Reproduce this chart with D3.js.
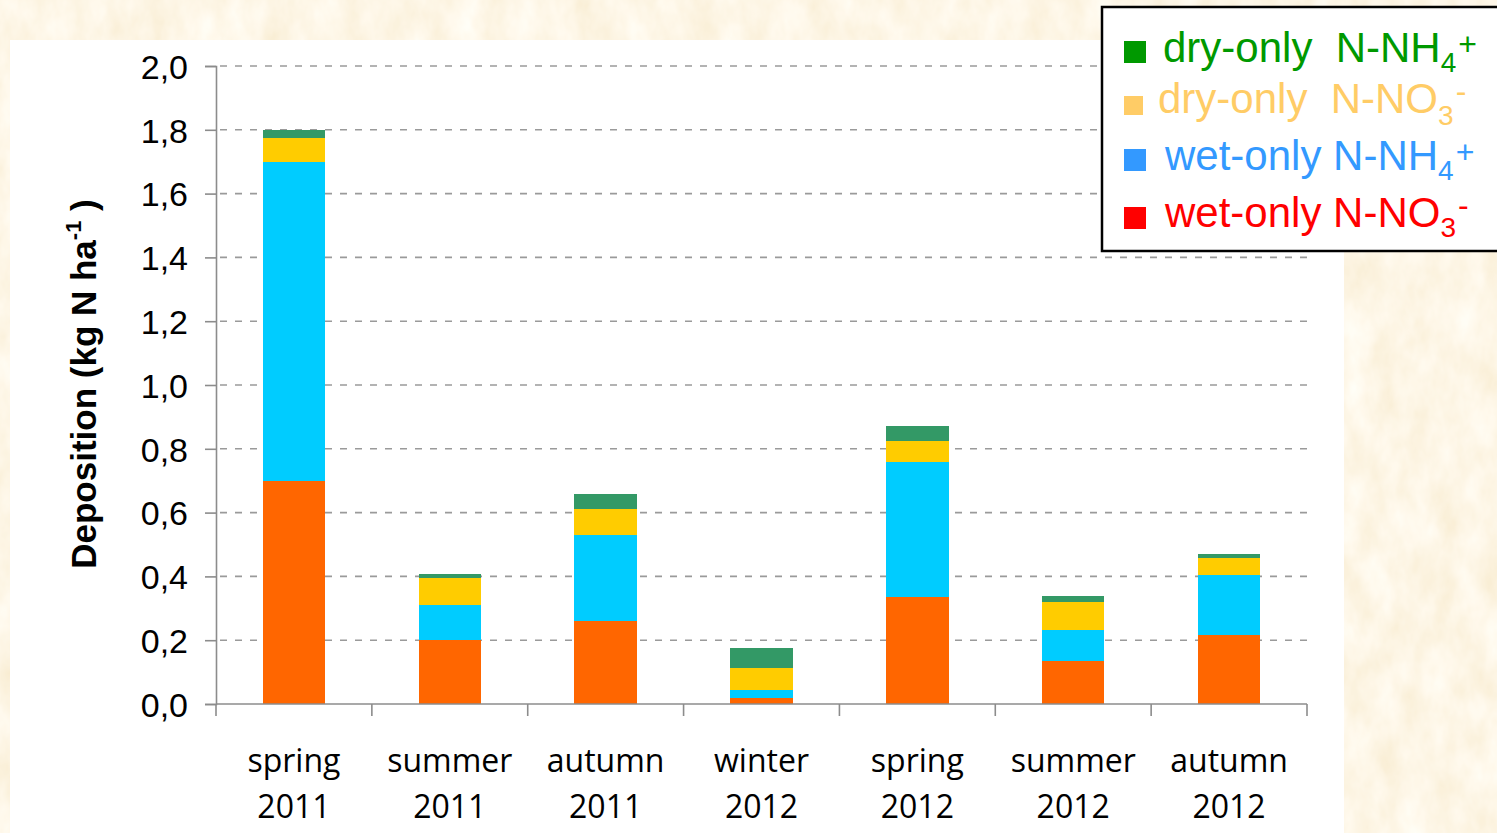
<!DOCTYPE html>
<html>
<head>
<meta charset="utf-8">
<script src="https://cdn.jsdelivr.net/npm/d3@7"></script>
<style>
  html, body { margin: 0; padding: 0; background: #fcebc8; }
  svg { display: block; }
</style>
</head>
<body>
<svg id="chart" width="1497" height="833"></svg>
<script>
// Seasonal nitrogen deposition, split by pathway and ion
const seasons = ["spring", "summer", "autumn", "winter", "spring", "summer", "autumn"];
const years = ["2011", "2011", "2011", "2012", "2012", "2012", "2012"];

const wetNO3 = [0.70, 0.20, 0.26, 0.020, 0.335, 0.135, 0.215];
const wetNH4 = [1.00, 0.11, 0.27, 0.024, 0.425, 0.097, 0.190];
const dryNO3 = [0.075, 0.085, 0.080, 0.069, 0.063, 0.088, 0.053];
const dryNH4 = [0.025, 0.012, 0.047, 0.063, 0.047, 0.019, 0.013];

const seriesKeys = ["wetNO3", "wetNH4", "dryNO3", "dryNH4"];
const barColors = ["#ff6600", "#00ccff", "#ffcc00", "#339966"];

const yTicks = [0, 0.2, 0.4, 0.6, 0.8, 1.0, 1.2, 1.4, 1.6, 1.8, 2.0];

// legend, listed top to bottom
const legendItems = [
  { text: "dry-only  N-NH", sub: "4", sup: "+", color: "#009900" },
  { text: "dry-only  N-NO", sub: "3", sup: "-", color: "#ffcc66" },
  { text: "wet-only N-NH", sub: "4", sup: "+", color: "#3399ff" },
  { text: "wet-only N-NO", sub: "3", sup: "-", color: "#ff0000" }
];

const svg = d3.select("#chart");
const W = 1497, H = 833;

// parchment backdrop
const defs = svg.append("defs");
const f = defs.append("filter").attr("id", "paper")
  .attr("x", 0).attr("y", 0).attr("width", "100%").attr("height", "100%");
f.append("feTurbulence").attr("type", "fractalNoise")
  .attr("baseFrequency", "0.035 0.02").attr("numOctaves", 4).attr("seed", 7);
f.append("feColorMatrix").attr("type", "matrix")
  .attr("values", "0.10 0 0 0 0.935  0.18 0 0 0 0.83  0.34 0 0 0 0.62  0 0 0 0 1");
svg.append("rect").attr("width", W).attr("height", H).attr("fill", "#fcebc8");
svg.append("rect").attr("width", W).attr("height", H).attr("filter", "url(#paper)");

// white chart panel
svg.append("rect").attr("x", 10).attr("y", 40).attr("width", 1334).attr("height", 800)
  .attr("fill", "#ffffff");

const x0 = 216, x1 = 1307, yBase = 704, yTop = 66;
const categories = seasons.map((s, i) => s + " " + years[i]);

const x = d3.scaleBand().domain(categories).range([x0, x1])
  .paddingInner(0.6).paddingOuter(0.3);
const y = d3.scaleLinear().domain([0, 2]).range([yBase, yTop]);

const loc = d3.formatLocale({ decimal: ",", thousands: ".", grouping: [3], currency: ["", "€"] });
const fmt = loc.format(".1f");

// dashed gridlines
svg.append("g")
  .selectAll("line").data(yTicks.filter(d => d > 0)).join("line")
  .attr("x1", x0 + 4).attr("x2", x1)
  .attr("y1", d => y(d)).attr("y2", d => y(d))
  .attr("stroke", "#9a9a9a").attr("stroke-width", 1.6)
  .attr("stroke-dasharray", "7,8");

// stacked bars
const rows = categories.map((c, i) => ({
  cat: c, wetNO3: wetNO3[i], wetNH4: wetNH4[i], dryNO3: dryNO3[i], dryNH4: dryNH4[i]
}));
const stacked = d3.stack().keys(seriesKeys)(rows);

svg.append("g").selectAll("g").data(stacked).join("g")
  .attr("fill", (d, i) => barColors[i])
  .selectAll("rect").data(d => d).join("rect")
  .attr("x", d => x(d.data.cat))
  .attr("width", x.bandwidth())
  .attr("y", d => y(d[1]))
  .attr("height", d => y(d[0]) - y(d[1]))
  .attr("shape-rendering", "crispEdges");

// y axis
const yAxis = svg.append("g").attr("transform", `translate(${x0},0)`)
  .call(d3.axisLeft(y).tickValues(yTicks).tickFormat(fmt).tickSize(11).tickPadding(17));
yAxis.select(".domain").attr("stroke", "#8c8c8c").attr("stroke-width", 1.6);
yAxis.selectAll(".tick line").attr("stroke", "#8c8c8c").attr("stroke-width", 1.6);
yAxis.selectAll(".tick text")
  .attr("font-family", "'Liberation Sans', Arial, sans-serif")
  .attr("font-size", 34).attr("fill", "#000").attr("dy", "0.36em");

// x axis with ticks at band boundaries
const xAxisG = svg.append("g");
xAxisG.append("line").attr("x1", x0).attr("x2", x1).attr("y1", yBase).attr("y2", yBase)
  .attr("stroke", "#8c8c8c").attr("stroke-width", 1.6);
const bounds = categories.map(c => x(c) - x.step() * x.paddingOuter())
  .concat([x1]);
xAxisG.selectAll("line.tk").data(bounds).join("line").attr("class", "tk")
  .attr("x1", d => d).attr("x2", d => d)
  .attr("y1", yBase).attr("y2", yBase + 12)
  .attr("stroke", "#8c8c8c").attr("stroke-width", 1.6);

const xl = svg.append("g").selectAll("text").data(categories).join("text")
  .attr("text-anchor", "middle")
  .attr("font-family", "'Open Sans', sans-serif")
  .attr("font-size", 32).attr("fill", "#000");
xl.append("tspan").attr("x", d => x(d) + x.bandwidth() / 2).attr("y", 772)
  .text((d, i) => seasons[i]);
xl.append("tspan").attr("x", d => x(d) + x.bandwidth() / 2).attr("y", 818)
  .text((d, i) => years[i]);

// y axis title
const yt = svg.append("text")
  .attr("transform", "translate(96,384) rotate(-90)")
  .attr("text-anchor", "middle")
  .attr("font-family", "'Liberation Sans', Arial, sans-serif")
  .attr("font-weight", "bold").attr("font-size", 35).attr("fill", "#000");
yt.append("tspan").text("Deposition (kg N ha");
yt.append("tspan").attr("font-size", 22).attr("dy", -15).text("-1");
yt.append("tspan").attr("dy", 15).text(" )");

// legend
const lg = svg.append("g");
lg.append("rect").attr("x", 1102).attr("y", 7).attr("width", 420).attr("height", 244)
  .attr("fill", "#fff").attr("stroke", "#000").attr("stroke-width", 2.5);

const baselines = [62, 113, 170, 227];
const textX = [1163, 1158, 1165, 1165];
const squares = [[41, 22], [96, 19], [149, 22], [207, 22]];
const subDrop = [10, 12, 10, 10];
const supRise = [7, 11, 7, 11];
legendItems.forEach((it, i) => {
  lg.append("rect").attr("x", 1124).attr("y", squares[i][0])
    .attr("width", squares[i][1]).attr("height", squares[i][1]).attr("fill", it.color);
  const t = lg.append("text").attr("x", textX[i]).attr("y", baselines[i])
    .attr("font-family", "'Liberation Sans', Arial, sans-serif")
    .attr("font-size", 42).attr("fill", it.color)
    .style("white-space", "pre");
  t.append("tspan").text(it.text);
  t.append("tspan").attr("font-size", 28).attr("dy", subDrop[i]).text(it.sub);
  t.append("tspan").attr("font-size", 32).attr("dx", 2)
    .attr("dy", -(subDrop[i] + supRise[i])).text(it.sup);
});
</script>
</body>
</html>
